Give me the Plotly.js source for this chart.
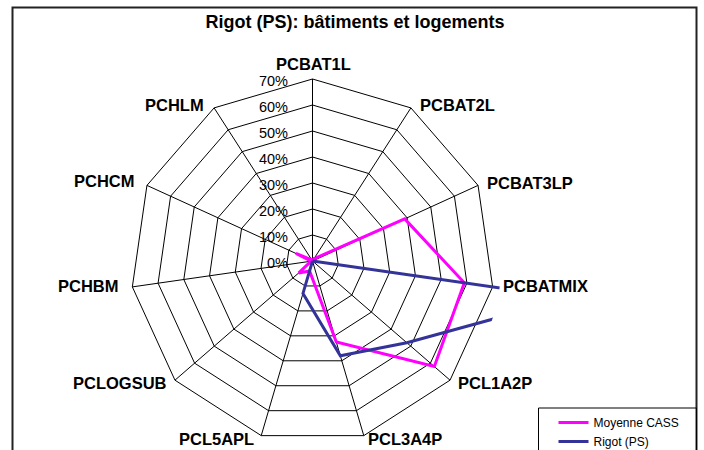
<!DOCTYPE html>
<html><head><meta charset="utf-8">
<script src="https://cdn.plot.ly/plotly-3.0.1.min.js"></script>
<style>html,body{margin:0;padding:0;background:#fff}#chart{width:704px;height:450px}</style>
</head><body><div id="chart"></div>
<script>
// ---- data ----
const categories = ['PCBAT1L','PCBAT2L','PCBAT3LP','PCBATMIX','PCL1A2P','PCL3A4P','PCL5APL','PCLOGSUB','PCHBM','PCHCM','PCHLM'];
const moyenneCASS = [1, 1, 39, 59, 62, 32.5, 4, 7, 0.5, 7, 0.5];
const rigotPS     = [0, 0, 0, 100, 48, 38, 13, 0, 0, 0, 0];
const seriesNames = ['Moyenne CASS', 'Rigot (PS)'];
const radialTicks = [0, 10, 20, 30, 40, 50, 60, 70];
const radialTickLabels = ['0%', '10%', '20%', '30%', '40%', '50%', '60%', '70%'];
const chartTitle = 'Rigot (PS): bâtiments et logements';

// ---- layout helpers (pixel -> paper) ----
const W = 704, H = 450;
const px = x => x / W, py = y => 1 - y / H;
const closeLoop = a => a.concat([a[0]]);
const FONT = '"Liberation Sans", Arial, sans-serif';

// grid polar: center (312.5,261), radius 182 ; data polar: same center, radius 189
const cx = 312.5, cy = 261, R = 182, R2 = 189;
const rMax = 70, rMax2 = rMax * R2 / R;

// category label placement (x px, y px, anchor)
const labelPos = [
  [313, 64.5, 'center'], [418, 104.5, 'left'], [485, 182.5, 'left'], [501, 286, 'left'],
  [456, 382.5, 'left'], [366, 439, 'left'], [256, 439, 'right'], [169, 382.5, 'right'],
  [121, 286, 'right'], [137, 181, 'right'], [206, 104.5, 'right']
];

const traces = [
  // invisible carrier trace so the grid subplot is drawn
  { type: 'scatterpolar', subplot: 'polar', showlegend: false, hoverinfo: 'skip',
    r: moyenneCASS, theta: categories, mode: 'lines',
    line: { color: 'rgba(0,0,0,0)', width: 0 } },
  { type: 'scatterpolar', subplot: 'polar2', name: seriesNames[0],
    r: closeLoop(moyenneCASS), theta: closeLoop(categories), mode: 'lines',
    line: { color: '#FF00FF', width: 3 } },
  { type: 'scatterpolar', subplot: 'polar2', name: seriesNames[1],
    r: closeLoop(rigotPS), theta: closeLoop(categories), mode: 'lines',
    line: { color: '#333399', width: 3 } }
];

const annotations = categories.map((c, i) => ({
  text: '<b>' + c + '</b>', xref: 'paper', yref: 'paper',
  x: px(labelPos[i][0]), y: py(labelPos[i][1]),
  xanchor: labelPos[i][2], yanchor: 'middle', showarrow: false,
  font: { family: FONT, size: 16.5, color: '#000' }
}));

const layout = {
  width: W, height: H,
  margin: { l: 0, r: 0, t: 0, b: 0, autoexpand: false },
  paper_bgcolor: '#fff',
  showlegend: true,
  title: { text: '<b>' + chartTitle + '</b>', x: px(355), xanchor: 'center',
           y: py(22), yanchor: 'middle', yref: 'container',
           font: { family: FONT, size: 18, color: '#000' } },
  polar: {
    domain: { x: [px(cx - R), px(cx + R)], y: [py(cy + R), py(cy - R)] },
    bgcolor: 'rgba(0,0,0,0)',
    gridshape: 'linear',
    angularaxis: { type: 'category', categoryorder: 'array', categoryarray: categories,
      rotation: 90, direction: 'clockwise', showline: true, linecolor: '#000', linewidth: 1,
      showgrid: true, gridcolor: '#000', gridwidth: 1, ticks: '', showticklabels: false },
    radialaxis: { range: [0, rMax], tickvals: radialTicks, ticktext: radialTickLabels,
      angle: 90, side: 'counterclockwise', showline: false, showgrid: true,
      gridcolor: '#000', gridwidth: 1, ticks: 'outside', ticklen: 11, tickcolor: 'rgba(0,0,0,0)',
      tickfont: { family: FONT, size: 14.5, color: '#000' } }
  },
  polar2: {
    domain: { x: [px(cx - R2), px(cx + R2)], y: [Math.max(0, py(cy + R2)), py(cy - R2)] },
    bgcolor: 'rgba(0,0,0,0)',
    angularaxis: { type: 'category', categoryorder: 'array', categoryarray: categories,
      rotation: 90, direction: 'clockwise', showline: false, showgrid: false,
      ticks: '', showticklabels: false },
    radialaxis: { range: [0, rMax2], showline: false, showgrid: false, ticks: '',
      showticklabels: false }
  },
  legend: { x: px(553.5), y: py(408), xanchor: 'left', yanchor: 'top',
    bgcolor: 'rgba(0,0,0,0)', borderwidth: 0, itemwidth: 30,
    font: { family: FONT, size: 12, color: '#000' } },
  shapes: [
    { type: 'rect', xref: 'paper', yref: 'paper', x0: px(12.5), x1: px(696.5), y0: py(470), y1: py(7.5),
      line: { color: '#222', width: 2 }, fillcolor: 'rgba(0,0,0,0)', layer: 'below' },
    { type: 'rect', xref: 'paper', yref: 'paper', x0: px(538.5), x1: px(696.5), y0: py(470), y1: py(408),
      line: { color: '#000', width: 1 }, fillcolor: 'rgba(0,0,0,0)', layer: 'above' }
  ],
  annotations: annotations
};

Plotly.newPlot('chart', traces, layout, { displayModeBar: false, staticPlot: true });
</script>
</body></html>
